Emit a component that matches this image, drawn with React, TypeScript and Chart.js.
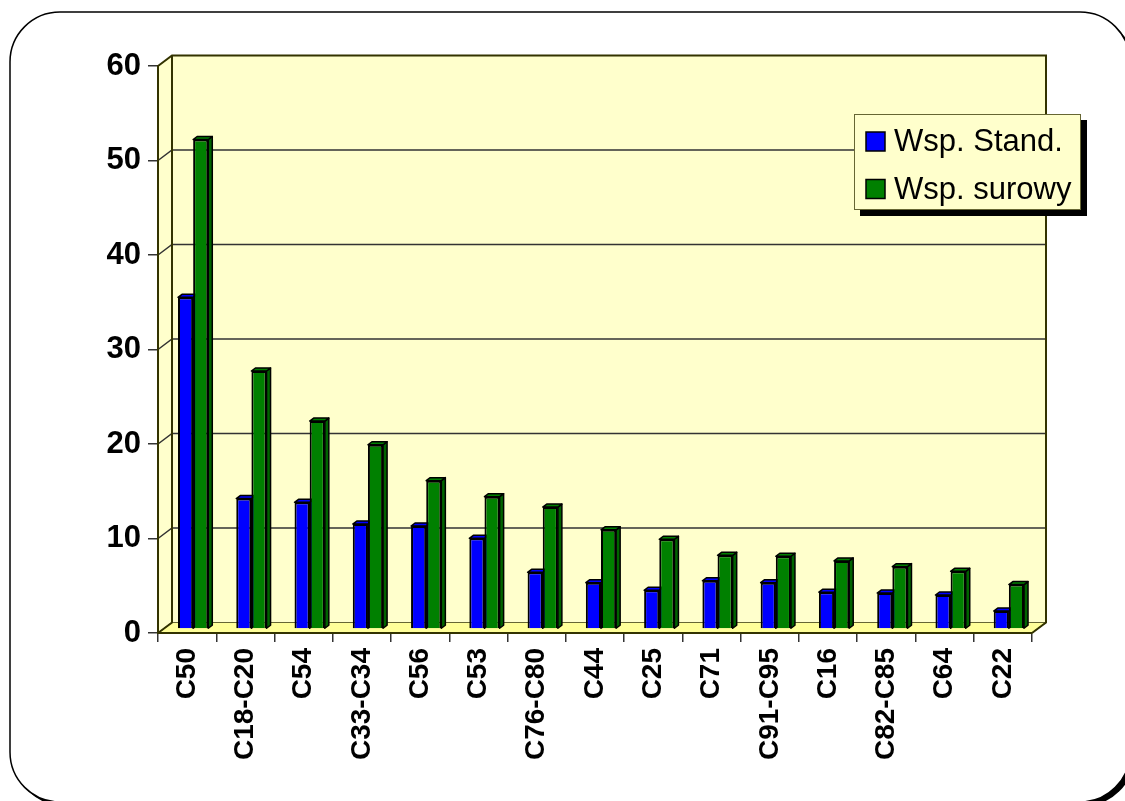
import React, { useEffect, useRef } from "react";
import { Chart, registerables } from "chart.js";

Chart.register(...registerables);

const categories = ["C50", "C18-C20", "C54", "C33-C34", "C56", "C53", "C76-C80", "C44", "C25", "C71", "C91-C95", "C16", "C82-C85", "C64", "C22"];
const stdValues = [35.1, 13.8, 13.4, 11.1, 10.9, 9.6, 6.0, 4.9, 4.1, 5.1, 4.9, 3.9, 3.8, 3.6, 1.9];
const rawValues = [51.8, 27.3, 22.0, 19.5, 15.7, 14.0, 12.9, 10.5, 9.5, 7.8, 7.7, 7.2, 6.6, 6.1, 4.7];
const seriesLabels = ["Wsp. Stand.", "Wsp. surowy"];
const seriesColors = ["#0000FF", "#008000"];
const sideColors = ["#0000C8", "#006400"];
const yTicks = [0, 10, 20, 30, 40, 50, 60];

const FONT = "'Liberation Sans', Arial, sans-serif";
const DX = 14; // depth offset of the back wall
const DY = -10.5;
const BAR_DX = 6; // bars sit at mid-depth
const BAR_DY = -4;
const FACE_DX = 4;
const FACE_DY = -3;

function roundRect(ctx: CanvasRenderingContext2D, x: number, y: number, w: number, h: number, r: number) {
  ctx.beginPath();
  ctx.moveTo(x + r, y);
  ctx.lineTo(x + w - r, y);
  ctx.arcTo(x + w, y, x + w, y + r, r);
  ctx.lineTo(x + w, y + h - r);
  ctx.arcTo(x + w, y + h, x + w - r, y + h, r);
  ctx.lineTo(x + r, y + h);
  ctx.arcTo(x, y + h, x, y + h - r, r);
  ctx.lineTo(x, y + r);
  ctx.arcTo(x, y, x + r, y, r);
  ctx.closePath();
}

const wallsPlugin = {
  id: "walls3d",
  beforeDraw(chart: any) {
    const ctx: CanvasRenderingContext2D = chart.ctx;
    const { left, right, top, bottom } = chart.chartArea;
    const yScale = chart.scales.y;
    ctx.save();
    ctx.fillStyle = "#ffffff";
    ctx.fillRect(0, 0, chart.width, chart.height);
    ctx.fillStyle = "#000000";
    roundRect(ctx, 14, 16, 1120, 790, 50);
    ctx.fill();
    ctx.fillStyle = "#ffffff";
    roundRect(ctx, 10, 12, 1120, 790, 50);
    ctx.fill();
    ctx.strokeStyle = "#000000";
    ctx.lineWidth = 1.5;
    ctx.stroke();

    // back wall
    ctx.fillStyle = "#FFFFCC";
    ctx.fillRect(left + DX, top + DY, right - left, bottom - top);
    // left side wall
    ctx.beginPath();
    ctx.moveTo(left, top);
    ctx.lineTo(left + DX, top + DY);
    ctx.lineTo(left + DX, bottom + DY);
    ctx.lineTo(left, bottom);
    ctx.closePath();
    ctx.fillStyle = "#FFFFCC";
    ctx.fill();
    // floor
    ctx.beginPath();
    ctx.moveTo(left, bottom);
    ctx.lineTo(left + DX, bottom + DY);
    ctx.lineTo(right + DX, bottom + DY);
    ctx.lineTo(right, bottom);
    ctx.closePath();
    ctx.fillStyle = "#FFFF99";
    ctx.fill();
    ctx.strokeStyle = "#666633";
    ctx.lineWidth = 1;
    ctx.stroke();

    // gridlines
    ctx.strokeStyle = "#333333";
    ctx.lineWidth = 1.5;
    for (const v of yTicks) {
      if (v === 0 || v === 60) continue;
      const py = yScale.getPixelForValue(v);
      ctx.beginPath();
      ctx.moveTo(left, py);
      ctx.lineTo(left + DX, py + DY);
      ctx.lineTo(right + DX, py + DY);
      ctx.stroke();
    }
    // wall edges
    ctx.strokeStyle = "#333300";
    ctx.lineWidth = 2;
    ctx.beginPath();
    ctx.moveTo(left, top);
    ctx.lineTo(left + DX, top + DY);
    ctx.lineTo(right + DX, top + DY);
    ctx.lineTo(right + DX, bottom + DY);
    ctx.lineTo(right, bottom);
    ctx.moveTo(left + DX, top + DY);
    ctx.lineTo(left + DX, bottom + DY);
    ctx.lineTo(left, bottom);
    ctx.stroke();
    ctx.restore();
  },
  beforeDatasetsDraw(chart: any) {
    const ctx: CanvasRenderingContext2D = chart.ctx;
    ctx.save();
    ctx.translate(BAR_DX, BAR_DY);
    const metas = chart.data.datasets.map((_: any, i: number) => chart.getDatasetMeta(i));
    const n = chart.data.labels.length;
    for (let i = 0; i < n; i++) {
      metas.forEach((meta: any, d: number) => {
        const el = meta.data[i];
        if (!el) return;
        const { x, y, base, width } = el.getProps(["x", "y", "base", "width"], true);
        const l = x - width / 2;
        const r = x + width / 2;
        el.draw(ctx);
        ctx.lineWidth = 1.5;
        ctx.strokeStyle = "#000000";
        ctx.lineJoin = "round";
        // side face
        ctx.beginPath();
        ctx.moveTo(r, y);
        ctx.lineTo(r + FACE_DX, y + FACE_DY);
        ctx.lineTo(r + FACE_DX, base + FACE_DY);
        ctx.lineTo(r, base);
        ctx.closePath();
        ctx.fillStyle = sideColors[d];
        ctx.fill();
        ctx.stroke();
        // top face
        ctx.beginPath();
        ctx.moveTo(l, y);
        ctx.lineTo(l + FACE_DX, y + FACE_DY);
        ctx.lineTo(r + FACE_DX, y + FACE_DY);
        ctx.lineTo(r, y);
        ctx.closePath();
        ctx.fillStyle = seriesColors[d];
        ctx.fill();
        ctx.stroke();
      });
    }
    ctx.restore();
    return false;
  },
  afterDraw(chart: any) {
    const ctx: CanvasRenderingContext2D = chart.ctx;
    ctx.save();
    const bx = 854, by = 114, bw = 227, bh = 96;
    ctx.fillStyle = "#000000";
    ctx.fillRect(bx + 6, by + 6, bw, bh);
    ctx.fillStyle = "#FFFFCC";
    ctx.fillRect(bx, by, bw, bh);
    ctx.strokeStyle = "#666633";
    ctx.lineWidth = 1;
    ctx.strokeRect(bx + 0.5, by + 0.5, bw - 1, bh - 1);
    chart.data.datasets.forEach((ds: any, i: number) => {
      const cy = 141.5 + i * 47.5;
      ctx.fillStyle = ds.backgroundColor;
      ctx.fillRect(866, cy - 9.5, 19, 19);
      ctx.strokeStyle = "#000000";
      ctx.lineWidth = 1.5;
      ctx.strokeRect(866, cy - 9.5, 19, 19);
      ctx.fillStyle = "#000000";
      ctx.font = `31px ${FONT}`;
      ctx.textBaseline = "middle";
      ctx.textAlign = "left";
      ctx.fillText(ds.label, 894, cy + 1);
    });
    ctx.restore();
  },
};

export default function App() {
  const ref = useRef<HTMLCanvasElement | null>(null);
  useEffect(() => {
    if (!ref.current) return;
    const chart = new Chart(ref.current, {
      type: "bar",
      data: {
        labels: categories,
        datasets: [
          { label: seriesLabels[0], data: stdValues, backgroundColor: seriesColors[0], borderColor: "#000000", borderWidth: 2 },
          { label: seriesLabels[1], data: rawValues, backgroundColor: seriesColors[1], borderColor: "#000000", borderWidth: 2 },
        ],
      },
      options: {
        animation: false,
        responsive: false,
        devicePixelRatio: 1,
        layout: { padding: { left: 0, top: 66, right: 93, bottom: 0 } },
        datasets: { bar: { categoryPercentage: 0.52, barPercentage: 1.0 } },
        plugins: { legend: { display: false }, tooltip: { enabled: false } },
        scales: {
          x: {
            type: "category",
            offset: true,
            grid: { display: true, drawOnChartArea: false, drawTicks: true, tickLength: 9, color: "#333333", lineWidth: 1.5, offset: true },
            border: { display: true, color: "#333300", width: 2 },
            ticks: { autoSkip: false, minRotation: 90, maxRotation: 90, padding: 6, color: "#000000", font: { family: FONT, size: 28, weight: "bold" } },
            afterFit: (s: any) => { s.height = 801 - 633; },
          },
          y: {
            min: 0,
            max: 60,
            ticks: { stepSize: 10, padding: 7, color: "#000000", font: { family: FONT, size: 31, weight: "bold" } },
            grid: { display: true, drawOnChartArea: false, drawTicks: true, tickLength: 10, color: "#333333", lineWidth: 1.5 },
            border: { display: true, color: "#333300", width: 2 },
            afterFit: (s: any) => { s.width = 158; },
          },
        },
      },
      plugins: [wallsPlugin],
    } as any);
    return () => chart.destroy();
  }, []);
  return (
    <div style={{ position: "fixed", left: 0, top: 0, width: 1125, height: 801 }}>
      <canvas ref={ref} width={1125} height={801} style={{ display: "block" }} />
    </div>
  );
}
